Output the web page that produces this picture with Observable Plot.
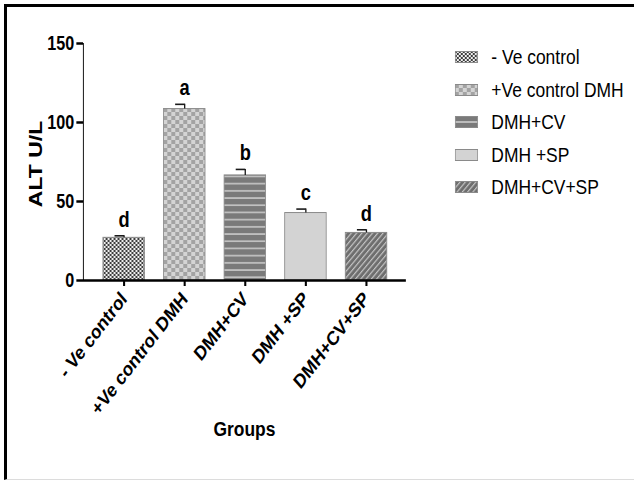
<!DOCTYPE html>
<html><head><meta charset="utf-8">
<script src="https://cdn.jsdelivr.net/npm/d3@7"></script>
<script src="https://cdn.jsdelivr.net/npm/@observablehq/plot@0.6"></script>
<style>
html,body{margin:0;padding:0;background:#fff;}
#frame{position:absolute;left:4px;top:4px;width:630px;height:476px;border-left:3px solid #000;border-top:3px solid #000;border-bottom:1px solid #dcdcdc;box-sizing:border-box;}
#wrap{position:absolute;left:0;top:0;width:764px;height:481px;transform:scaleX(0.83);transform-origin:0 0;font-family:"Liberation Sans",Arial,sans-serif;}
#chart svg{position:absolute;left:0;top:0;overflow:visible;}
#legend{position:absolute;left:548px;top:0;width:216px;height:220px;}
.item{position:absolute;left:0;height:24px;display:flex;align-items:center;white-space:nowrap;font-size:21px;color:#000;}
.item svg{margin-right:16px;}
g[aria-label="y-axis tick"], g[aria-label="x-axis tick"]{stroke-width:2.5px;}
g[aria-label="x-axis tick label"]{font-size:20px;}
g[aria-label="y-axis tick label"]{font-size:19.5px;}
</style>
</head><body>
<div id="frame"></div>
<div id="wrap"><div id="chart"></div><div id="legend"></div></div>
<script>
const groups = ["- Ve control", "+Ve control DMH", "DMH+CV", "DMH +SP", "DMH+CV+SP"];
const means = [27.0, 108.5, 66.5, 42.7, 30.1];
const sems = [1.3, 3.0, 3.8, 2.5, 2.0];
const letters = ["d", "a", "b", "c", "d"];
const yTicks = [0, 50, 100, 150];
const fills = ["url(#p1)", "url(#p2)", "url(#p3)", "#d3d3d3", "url(#p5)"];
const legendFills = ["url(#p1)", "url(#p2)", "url(#p3L)", "#d3d3d3", "url(#p5)"];

const rows = groups.map((g, i) => ({group: g, mean: means[i], upper: means[i] + sems[i], letter: letters[i]}));

const svg = Plot.plot({
  width: 764,
  height: 470,
  marginLeft: 100,
  marginRight: 275,
  marginTop: 43,
  marginBottom: 190,
  style: {fontFamily: "'Liberation Sans', Arial, sans-serif", fontSize: "18px", fontWeight: "bold", color: "#000", background: "transparent", overflow: "visible"},
  x: {domain: groups, padding: 0.32, tickRotate: -47, tickSize: 6, tickPadding: 9, label: null},
  y: {domain: [0, 150], ticks: yTicks, tickSize: 8, tickPadding: 3, label: null, line: true},
  color: {type: "ordinal", domain: groups, range: fills},
  marks: [
    Plot.barY(rows, {x: "group", y: "mean", fill: "group", stroke: "#8a8a8a", strokeWidth: 1}),
    Plot.ruleX(rows, {x: "group", y1: "mean", y2: "upper", stroke: "#1a1a1a", strokeWidth: 1.6}),
    Plot.tickY(rows, {x: "group", y: "upper", stroke: "#1a1a1a", strokeWidth: 1.6, insetLeft: 14, insetRight: 24.5}),
    Plot.text(rows, {x: "group", y: "upper", text: "letter", dy: -16, fontSize: 22, fontWeight: "bold", fill: "#000"}),
    Plot.ruleY([0], {stroke: "#000", strokeWidth: 2.5})
  ]
});

function addDefs(target) {
  const defs = d3.select(target).insert("defs", ":first-child");
  let p = defs.append("pattern").attr("id", "p1").attr("patternUnits", "userSpaceOnUse").attr("width", 4.8).attr("height", 4);
  p.append("rect").attr("width", 4.8).attr("height", 4).attr("fill", "#efefef");
  p.append("rect").attr("x", 0).attr("y", 0).attr("width", 2.4).attr("height", 2).attr("fill", "#3d3d3d");
  p.append("rect").attr("x", 2.4).attr("y", 2).attr("width", 2.4).attr("height", 2).attr("fill", "#3d3d3d");
  p = defs.append("pattern").attr("id", "p2").attr("patternUnits", "userSpaceOnUse").attr("width", 9.6).attr("height", 8);
  p.append("rect").attr("width", 9.6).attr("height", 8).attr("fill", "#d4d4d4");
  p.append("rect").attr("x", 0).attr("y", 0).attr("width", 4.8).attr("height", 4).attr("fill", "#a3a3a3");
  p.append("rect").attr("x", 4.8).attr("y", 4).attr("width", 4.8).attr("height", 4).attr("fill", "#a3a3a3");
  p = defs.append("pattern").attr("id", "p3").attr("patternUnits", "userSpaceOnUse").attr("width", 10).attr("height", 7.2);
  p.append("rect").attr("width", 10).attr("height", 7.2).attr("fill", "#7a7a7a");
  p.append("rect").attr("y", 3).attr("width", 10).attr("height", 1.3).attr("fill", "#d8d8d8");
  p = defs.append("pattern").attr("id", "p3L").attr("patternUnits", "userSpaceOnUse").attr("width", 10).attr("height", 12);
  p.append("rect").attr("width", 10).attr("height", 12).attr("fill", "#7a7a7a");
  p.append("rect").attr("y", 5.3).attr("width", 10).attr("height", 1.4).attr("fill", "#d8d8d8");
  p = defs.append("pattern").attr("id", "p5").attr("patternUnits", "userSpaceOnUse").attr("width", 4.5).attr("height", 6).attr("patternTransform", "rotate(45)");
  p.append("rect").attr("width", 4.5).attr("height", 6).attr("fill", "#6e6e6e");
  p.append("rect").attr("width", 1.3).attr("height", 6).attr("fill", "#c4c4c4");
}
addDefs(svg);

const s = d3.select(svg);
s.append("text").attr("x", 294.5).attr("y", 436).attr("text-anchor", "middle")
  .attr("font-size", 21).attr("font-weight", "bold").attr("fill", "#000").text("Groups");
s.append("text").attr("transform", "translate(51,164) rotate(-90)").attr("text-anchor", "middle")
  .attr("font-size", 23).attr("font-weight", "bold").attr("fill", "#000").text("ALT U/L");

document.getElementById("chart").appendChild(svg);

const legendY = [57, 89.5, 122, 154.5, 187];
const leg = d3.select("#legend");
groups.forEach((g, i) => {
  const item = leg.append("div").attr("class", "item").style("top", (legendY[i] - 12) + "px");
  const sw = item.append("svg").attr("width", 28).attr("height", 12);
  sw.append("rect").attr("x", 0.5).attr("y", 0.5).attr("width", 27).attr("height", 11)
    .attr("fill", legendFills[i]).attr("stroke", "#8a8a8a").attr("stroke-width", 1);
  item.append("span").text(g);
});
</script>
</body></html>
